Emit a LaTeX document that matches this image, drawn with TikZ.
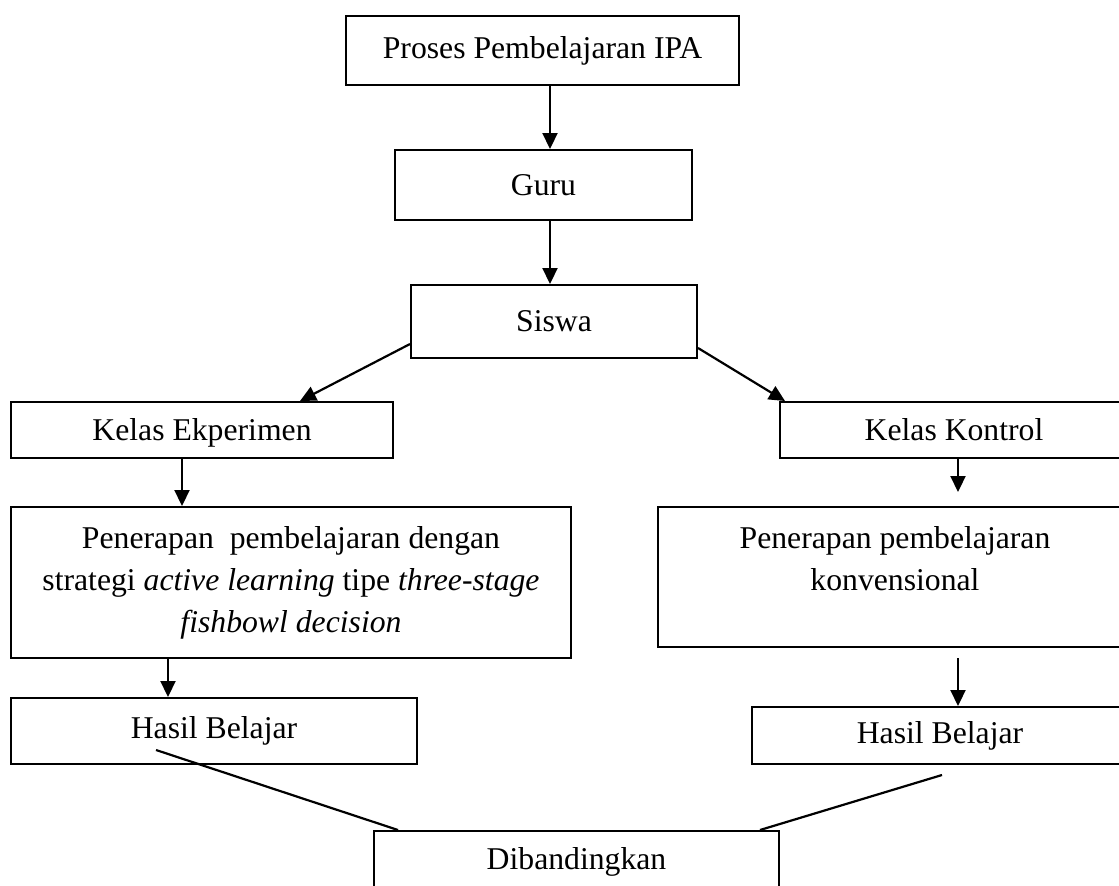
\documentclass[tikz,border=0pt]{standalone}
\usepackage{fontspec}
\setmainfont{Liberation Serif}
\usetikzlibrary{arrows.meta,calc}
\begin{document}
\begin{tikzpicture}[x=1pt,y=-1pt,
  box/.style={draw, line width=2pt, rectangle, inner sep=0pt, align=center},
  arr/.style={line width=2.2pt, -{Triangle[length=16pt,width=15pt]}},
  ln/.style={line width=2.2pt},
  font=\fontsize{31.7}{42}\selectfont]
\useasboundingbox (0,0) rectangle (1119,886);
\fill[white] (0,0) rectangle (1119,886);
\clip (0,0) rectangle (1119,886);

\node[box, minimum width=393pt, minimum height=69pt] (proses) at (542.5,50.5) {Proses Pembelajaran IPA};
\node[box, minimum width=297pt, minimum height=70pt] (guru) at (543.5,185) {Guru};
\node[box, minimum width=286pt, minimum height=73pt] (siswa) at (554,321.5) {Siswa};
\node[box, minimum width=382pt, minimum height=56pt, text height=24pt, text depth=4pt] (ke) at (202,430) {Kelas Ekperimen};
\node[box, minimum width=348pt, minimum height=56pt, text height=24pt, text depth=4pt] (kk) at (954,430) {Kelas Kontrol};
\node[box, minimum width=560pt, minimum height=151pt] (lbig) at (291,582.5)
  {Penerapan\ \ pembelajaran dengan\\ strategi \textit{active learning} tipe \textit{three-stage}\\ \textit{fishbowl decision}};
\node[box, minimum width=474pt, minimum height=140pt] (rbig) at (895,577) {};
\node[align=center, inner sep=0pt] (rbigt) at (895,559) {Penerapan pembelajaran\\ konvensional};
\node[box, minimum width=406pt, minimum height=66pt] (lhasil) at (214,731) {Hasil Belajar};
\node[box, minimum width=376pt, minimum height=57pt] (rhasil) at (940,735.5) {Hasil Belajar};
\node[box, minimum width=405pt, minimum height=62pt] (dib) at (576.5,862) {Dibandingkan};

\draw[arr] (550,0 |- proses.south) -- (550,0 |- guru.north);
\draw[arr] (550,0 |- guru.south) -- (550,0 |- siswa.north);
\draw[arr] ($(siswa.south west)+(0,-15)$) -- (300,0 |- ke.north);
\draw[arr] ($(siswa.south east)+(0,-11)$) -- (785,0 |- kk.north);
\draw[arr] (182,0 |- ke.south) -- (182,0 |- lbig.north);
\draw[arr, shorten >=14pt] (958,0 |- kk.south) -- (958,0 |- rbig.north);
\draw[arr] (168,0 |- lbig.south) -- (168,0 |- lhasil.north);
\draw[arr, shorten <=10pt] (958,0 |- rbig.south) -- (958,0 |- rhasil.north);
\draw[ln] ($(lhasil.south)+(-58,-15)$) -- (398,0 |- dib.north);
\draw[ln] ($(rhasil.south)+(2,10)$) -- (760,0 |- dib.north);
\end{tikzpicture}
\end{document}
